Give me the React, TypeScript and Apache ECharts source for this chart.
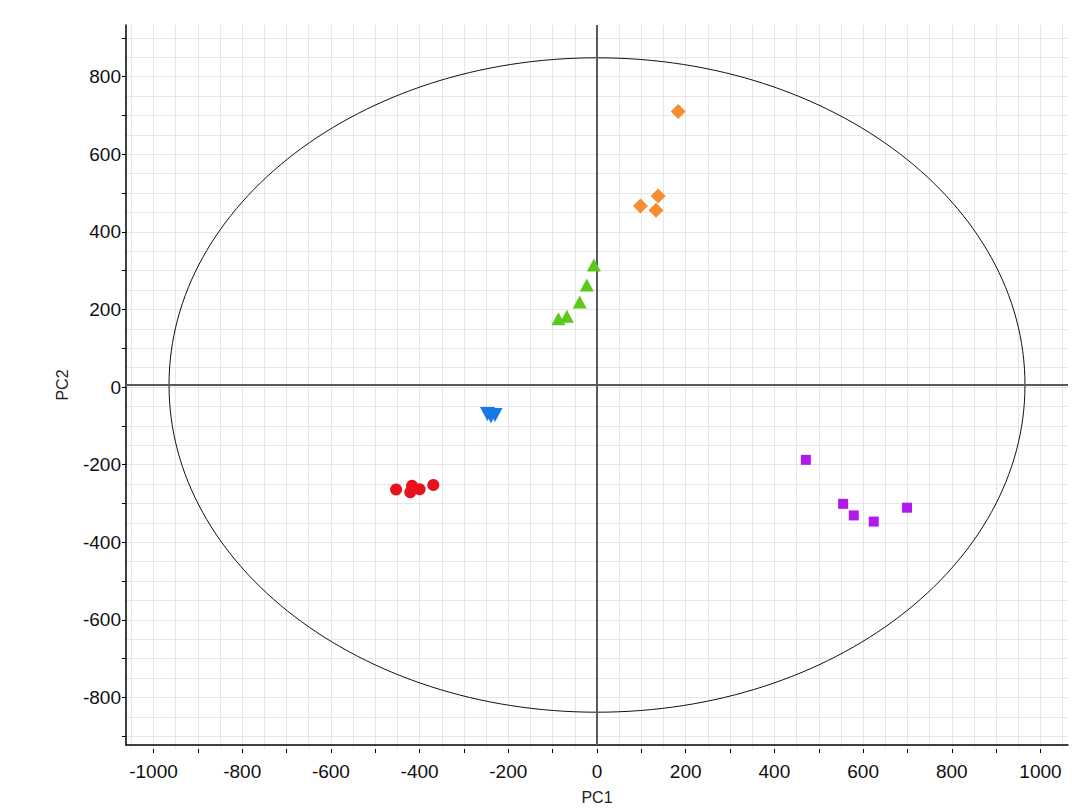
import React, { useEffect, useRef } from "react";
import * as echarts from "echarts";

// ---- data ----
const RED_CIRCLES: number[][] = [[-453, -271], [-417, -261], [-421, -278], [-400, -270], [-369, -259]];
const BLUE_TRIANGLES: number[][] = [[-247, -75], [-239, -81], [-230, -78]];
const GREEN_TRIANGLES: number[][] = [[-7, 311], [-23, 259], [-39, 215], [-68, 178], [-87, 172]];
const ORANGE_DIAMONDS: number[][] = [[183, 709], [138, 490], [98, 464], [133, 453]];
const PURPLE_SQUARES: number[][] = [[471, -194], [555, -308], [579, -338], [624, -354], [699, -318]];
const ELLIPSE: number[][] = [[0, 0, 965, 848]]; // centre x, centre y, semi-axis x, semi-axis y

const X_TICK_LABELS = [-1000, -800, -600, -400, -200, 0, 200, 400, 600, 800, 1000];
const Y_TICK_LABELS = [-800, -600, -400, -200, 0, 200, 400, 600, 800];

// ---- axis ranges ----
const X_MIN = -1062, X_MAX = 1062, Y_MIN = -933, Y_MAX = 933;

const G = { left: 126, top: 25, width: 942, height: 724 };
const px = (v: number) => G.left + ((v - X_MIN) / (X_MAX - X_MIN)) * G.width;
const py = (v: number) => G.top + ((Y_MAX - v) / (Y_MAX - Y_MIN)) * G.height;

const FONT = "'Liberation Sans', Arial, sans-serif";
const GRID_COLOR = "#e6e6e6";

export default function App() {
  const ref = useRef<HTMLDivElement>(null);
  useEffect(() => {
    if (!ref.current) return;
    const chart = echarts.init(ref.current, null, { renderer: "svg" });
    const bottomY = G.top + G.height;
    const option: any = {
      animation: false,
      backgroundColor: "#ffffff",
      grid: [
        { left: G.left, top: G.top, width: G.width, height: G.height },
        { left: px(-1050), top: G.top, width: px(1050) - px(-1050), height: G.height },
        { left: G.left, top: py(900), width: G.width, height: py(-900) - py(900) },
        { left: px(-1000), top: py(900), width: px(1000) - px(-1000), height: py(-900) - py(900) },
      ],
      xAxis: [
        {
          gridIndex: 0, type: "value", min: X_MIN, max: X_MAX,
          axisLine: { show: true, onZero: false, lineStyle: { color: "#000", width: 1.5 } },
          axisTick: { show: false }, axisLabel: { show: false }, splitLine: { show: false },
          name: "PC1", nameLocation: "middle", nameGap: 44,
          nameTextStyle: { fontFamily: FONT, fontSize: 16, color: "#222" },
        },
        {
          gridIndex: 1, type: "value", min: -1050, max: 1050, interval: 50,
          axisLine: { show: false }, axisTick: { show: false }, axisLabel: { show: false },
          splitLine: { show: true, lineStyle: { color: GRID_COLOR, width: 1 } },
        },
        { gridIndex: 2, type: "value", show: false },
        {
          gridIndex: 3, type: "value", min: -1000, max: 1000, interval: 100,
          offset: bottomY - py(-900),
          axisLine: { show: false, onZero: false },
          axisTick: { show: true, inside: false, length: 4, lineStyle: { color: "#000", width: 1 } },
          axisLabel: {
            show: true, margin: 13, fontFamily: FONT, fontSize: 19, color: "#111",
            formatter: (v: number) => (X_TICK_LABELS.includes(v) ? String(v) : ""),
          },
          splitLine: { show: false },
        },
      ],
      yAxis: [
        {
          gridIndex: 0, type: "value", min: Y_MIN, max: Y_MAX,
          axisLine: { show: true, onZero: false, lineStyle: { color: "#000", width: 1.5 } },
          axisTick: { show: false }, axisLabel: { show: false }, splitLine: { show: false },
          name: "PC2", nameLocation: "middle", nameGap: 56, nameRotate: 90,
          nameTextStyle: { fontFamily: FONT, fontSize: 16, color: "#222" },
        },
        { gridIndex: 1, type: "value", show: false },
        {
          gridIndex: 2, type: "value", min: -900, max: 900, interval: 50,
          axisLine: { show: false }, axisTick: { show: false }, axisLabel: { show: false },
          splitLine: { show: true, lineStyle: { color: GRID_COLOR, width: 1 } },
        },
        {
          gridIndex: 3, type: "value", min: -900, max: 900, interval: 100,
          offset: px(-1000) - G.left,
          axisLine: { show: false, onZero: false },
          axisTick: { show: true, inside: false, length: 4, lineStyle: { color: "#000", width: 1 } },
          axisLabel: {
            show: true, margin: 5, fontFamily: FONT, fontSize: 19, color: "#111",
            formatter: (v: number) => (Y_TICK_LABELS.includes(v) ? String(v) : ""),
          },
          splitLine: { show: false },
        },
      ],
      series: [
        {
          type: "custom",
          xAxisIndex: 0, yAxisIndex: 0,
          data: ELLIPSE,
          encode: { x: 0, y: 1 },
          silent: true,
          renderItem: (_params: any, api: any) => {
            const c = api.coord([api.value(0), api.value(1)]);
            const s = api.size([api.value(2), api.value(3)]);
            return {
              type: "ellipse",
              shape: { cx: c[0], cy: c[1], rx: s[0], ry: s[1] },
              style: { fill: "none", stroke: "#111", lineWidth: 1 },
            };
          },
          markLine: {
            silent: true,
            symbol: ["none", "none"],
            label: { show: false },
            lineStyle: { color: "#5a5a5a", width: 2, type: "solid" },
            data: [{ xAxis: 0 }, { yAxis: 0 }],
          },
          z: 3,
        },
        {
          type: "scatter", xAxisIndex: 0, yAxisIndex: 0, data: RED_CIRCLES,
          symbol: "circle", symbolSize: 12, itemStyle: { color: "#e8121a", opacity: 1 }, z: 5,
        },
        {
          type: "scatter", xAxisIndex: 0, yAxisIndex: 0, data: BLUE_TRIANGLES,
          symbol: "triangle", symbolRotate: 180, symbolSize: [15, 14], itemStyle: { color: "#1a78e6", opacity: 1 }, z: 5,
        },
        {
          type: "scatter", xAxisIndex: 0, yAxisIndex: 0, data: GREEN_TRIANGLES,
          symbol: "triangle", symbolSize: [14, 13], itemStyle: { color: "#5cc81c", opacity: 1 }, z: 5,
        },
        {
          type: "scatter", xAxisIndex: 0, yAxisIndex: 0, data: ORANGE_DIAMONDS,
          symbol: "diamond", symbolSize: [15, 15], itemStyle: { color: "#f58e2e", opacity: 1 }, z: 5,
        },
        {
          type: "scatter", xAxisIndex: 0, yAxisIndex: 0, data: PURPLE_SQUARES,
          symbol: "rect", symbolSize: 10, itemStyle: { color: "#b01aec", opacity: 1 }, z: 5,
        },
      ],
    };
    chart.setOption(option);
    return () => chart.dispose();
  }, []);
  return (
    <div
      ref={ref}
      style={{ position: "absolute", left: 0, top: 0, width: 1079, height: 810, background: "#fff" }}
    />
  );
}
